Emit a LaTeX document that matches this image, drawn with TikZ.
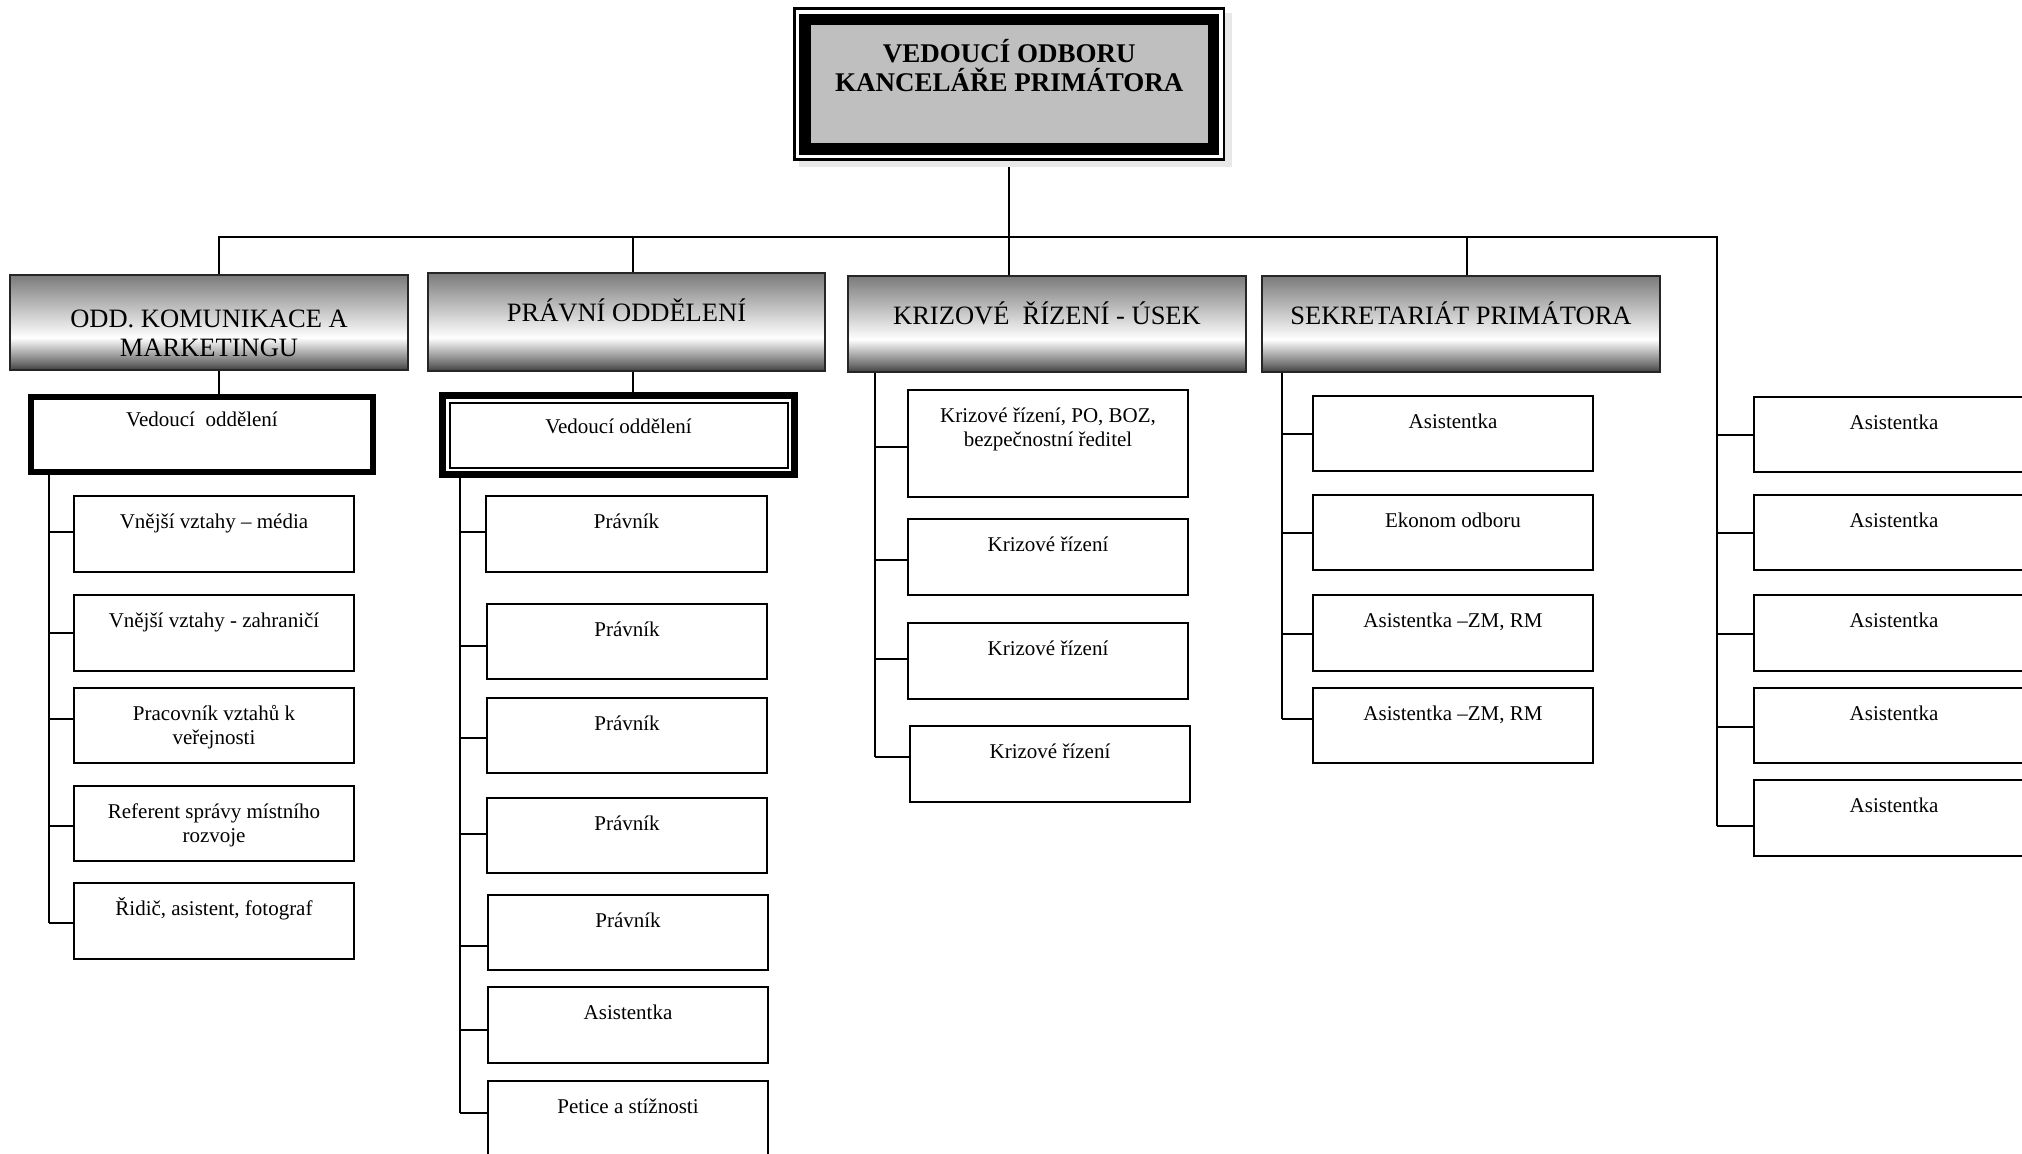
\documentclass[tikz,border=0pt]{standalone}
\usepackage{fontspec}
\setmainfont{Liberation Serif}
\usetikzlibrary{calc}
\pgfdeclarelayer{bg}\pgfdeclarelayer{mid}
\pgfsetlayers{bg,mid,main}
\pgfdeclareverticalshading{hdrshade}{100bp}{color(0bp)=(black!75); color(25bp)=(black!75); color(29bp)=(black!55); color(42bp)=(white); color(75bp)=(black!52); color(100bp)=(black!52)}
\newcommand{\bt}[4]{\parbox[c][#2][t]{#1}{\centering\vspace*{\dimexpr#3-28pt\relax}\rule{0pt}{28pt}#4\par}}
\newcommand{\cn}[4]{\coordinate (#1) at ([yshift=#4]#3.west);\draw[ln] (#1 -| #2) -- (#1);}
\begin{document}
\begin{tikzpicture}[x=1pt,y=-1pt,
  every node/.append style={outer sep=0pt},
  ln/.style={line width=2pt},
  bx/.style={draw, line width=2pt, fill=white, inner sep=0pt, anchor=north west, font=\fontsize{21}{24}\selectfont},
  hd/.style={draw=black!85, line width=1.5pt, shade, shading=hdrshade, inner sep=0pt, anchor=north west, font=\fontsize{26.5}{29}\selectfont}]
\useasboundingbox (0,0) rectangle (2022,1154);
\clip (0,0) rectangle (2022,1154);

% top box
\node[draw, line width=11.5pt, fill=black!25, inner sep=0pt, anchor=north west, font=\bfseries\fontsize{27}{29}\selectfont] (top) at (805,19.5) {\bt{408.5pt}{129.5pt}{42.5pt}{VEDOUCÍ ODBORU\\KANCELÁŘE PRIMÁTORA}};
\begin{pgfonlayer}{mid}
\fill[black!9] ([shift={(-6pt,6.5pt)}]top.north west) rectangle ([shift={(18.5pt,-18pt)}]top.south east);
\draw[line width=2.5pt, fill=white] ([shift={(-10.5pt,11pt)}]top.north west) rectangle ([shift={(10.5pt,-10.5pt)}]top.south east);
\end{pgfonlayer}

% departments
\node[hd] (d1) at (10,275) {\bt{398pt}{95pt}{52pt}{ODD. KOMUNIKACE A\\MARKETINGU}};
\node[hd] (d2) at (428,273) {\bt{397pt}{98pt}{48.5pt}{PRÁVNÍ ODDĚLENÍ}};
\node[hd] (d3) at (848,276) {\bt{398pt}{96pt}{48pt}{KRIZOVÉ\ \ ŘÍZENÍ - ÚSEK}};
\node[hd] (d4) at (1262,276) {\bt{398pt}{96pt}{48pt}{SEKRETARIÁT PRIMÁTORA}};

% heads of departments
\node[bx, line width=6pt] (v1) at (31,397) {\bt{342pt}{75pt}{29pt}{Vedoucí\ \ oddělení}};
\node[bx, line width=7pt] (v2) at (442.5,395.5) {\bt{352pt}{79pt}{37.5pt}{Vedoucí oddělení}};
\draw[line width=2pt] ([shift={(7pt,-7pt)}]v2.north west) rectangle ([shift={(-7pt,7pt)}]v2.south east);

% column 1
\node[bx] (a1) at (74,496) {\bt{280pt}{76pt}{32pt}{Vnější vztahy – média}};
\node[bx] (a2) at (74,595) {\bt{280pt}{76pt}{32pt}{Vnější vztahy - zahraničí}};
\node[bx] (a3) at (74,688) {\bt{280pt}{75pt}{32pt}{Pracovník vztahů k\\veřejnosti}};
\node[bx] (a4) at (74,786) {\bt{280pt}{75pt}{32pt}{Referent správy místního\\rozvoje}};
\node[bx] (a5) at (74,883) {\bt{280pt}{76pt}{32pt}{Řidič, asistent, fotograf}};

% column 2
\node[bx] (b1) at (486,496) {\bt{281pt}{76pt}{32pt}{Právník}};
\node[bx] (b2) at (487,604) {\bt{280pt}{75pt}{32pt}{Právník}};
\node[bx] (b3) at (487,698) {\bt{280pt}{75pt}{32pt}{Právník}};
\node[bx] (b4) at (487,798) {\bt{280pt}{75pt}{32pt}{Právník}};
\node[bx] (b5) at (488,895) {\bt{280pt}{75pt}{32pt}{Právník}};
\node[bx] (b6) at (488,987) {\bt{280pt}{76pt}{32pt}{Asistentka}};
\node[bx] (b7) at (488,1081) {\bt{280pt}{76pt}{32pt}{Petice a stížnosti}};

% column 3
\node[bx] (c1) at (908,390) {\bt{280pt}{107pt}{32pt}{Krizové řízení, PO, BOZ,\\bezpečnostní ředitel}};
\node[bx] (c2) at (908,519) {\bt{280pt}{76pt}{32pt}{Krizové řízení}};
\node[bx] (c3) at (908,623) {\bt{280pt}{76pt}{32pt}{Krizové řízení}};
\node[bx] (c4) at (910,726) {\bt{280pt}{76pt}{32pt}{Krizové řízení}};

% column 4
\node[bx] (e1) at (1313,396) {\bt{280pt}{75pt}{32pt}{Asistentka}};
\node[bx] (e2) at (1313,495) {\bt{280pt}{75pt}{32pt}{Ekonom odboru}};
\node[bx] (e3) at (1313,595) {\bt{280pt}{76pt}{32pt}{Asistentka –ZM, RM}};
\node[bx] (e4) at (1313,688) {\bt{280pt}{75pt}{32pt}{Asistentka –ZM, RM}};

% column 5
\node[bx] (f1) at (1754,397) {\bt{280pt}{75pt}{32pt}{Asistentka}};
\node[bx] (f2) at (1754,495) {\bt{280pt}{75pt}{32pt}{Asistentka}};
\node[bx] (f3) at (1754,595) {\bt{280pt}{76pt}{32pt}{Asistentka}};
\node[bx] (f4) at (1754,688) {\bt{280pt}{75pt}{32pt}{Asistentka}};
\node[bx] (f5) at (1754,780) {\bt{280pt}{76pt}{32pt}{Asistentka}};

% connectors
\begin{pgfonlayer}{bg}
\coordinate (j1) at (219,237);
\coordinate (j2) at (633,237);
\coordinate (j4) at (1467,237);
\coordinate (j5) at (1717,237);
\coordinate (t1) at (49,0);
\coordinate (t2) at (460,0);
\coordinate (t3) at (875,0);
\coordinate (t4) at (1282,0);
\cn{ka1}{t1}{a1}{2pt}
\cn{ka2}{t1}{a2}{0pt}
\cn{ka3}{t1}{a3}{6.5pt}
\cn{ka4}{t1}{a4}{-2pt}
\cn{ka5}{t1}{a5}{-2pt}
\cn{kb1}{t2}{b1}{2pt}
\cn{kb2}{t2}{b2}{-4.5pt}
\cn{kb3}{t2}{b3}{-2.5pt}
\cn{kb4}{t2}{b4}{1.5pt}
\cn{kb5}{t2}{b5}{-13.5pt}
\cn{kb6}{t2}{b6}{-5pt}
\cn{kb7}{t2}{b7}{6pt}
\cn{kc1}{t3}{c1}{-3.5pt}
\cn{kc2}{t3}{c2}{-3pt}
\cn{kc3}{t3}{c3}{2pt}
\cn{kc4}{t3}{c4}{7pt}
\cn{ke1}{t4}{e1}{0pt}
\cn{ke2}{t4}{e2}{0pt}
\cn{ke3}{t4}{e3}{-1pt}
\cn{ke4}{t4}{e4}{6.5pt}
\cn{kf1}{j5}{f1}{0pt}
\cn{kf2}{j5}{f2}{0pt}
\cn{kf3}{j5}{f3}{-1pt}
\cn{kf4}{j5}{f4}{-1.5pt}
\cn{kf5}{j5}{f5}{-8pt}
\draw[ln] (j1 |- d1.north) -- (j1) -- (j5) -- (kf5 -| j5);
\draw[ln] (j2) -- (j2 |- d2.north);
\draw[ln] (j4) -- (j4 |- d4.north);
\draw[ln] (top.south) -- (top.south |- d3.north);
\draw[ln] (j1 |- d1.south) -- (j1 |- v1.north);
\draw[ln] (j2 |- d2.south) -- (j2 |- v2.north);
\draw[ln] (t1 |- v1.south) -- (ka5 -| t1);
\draw[ln] (t2 |- v2.south) -- (kb7 -| t2);
\draw[ln] (t3 |- d3.south) -- (kc4 -| t3);
\draw[ln] (t4 |- d4.south) -- (ke4 -| t4);
\end{pgfonlayer}
\end{tikzpicture}
\end{document}
